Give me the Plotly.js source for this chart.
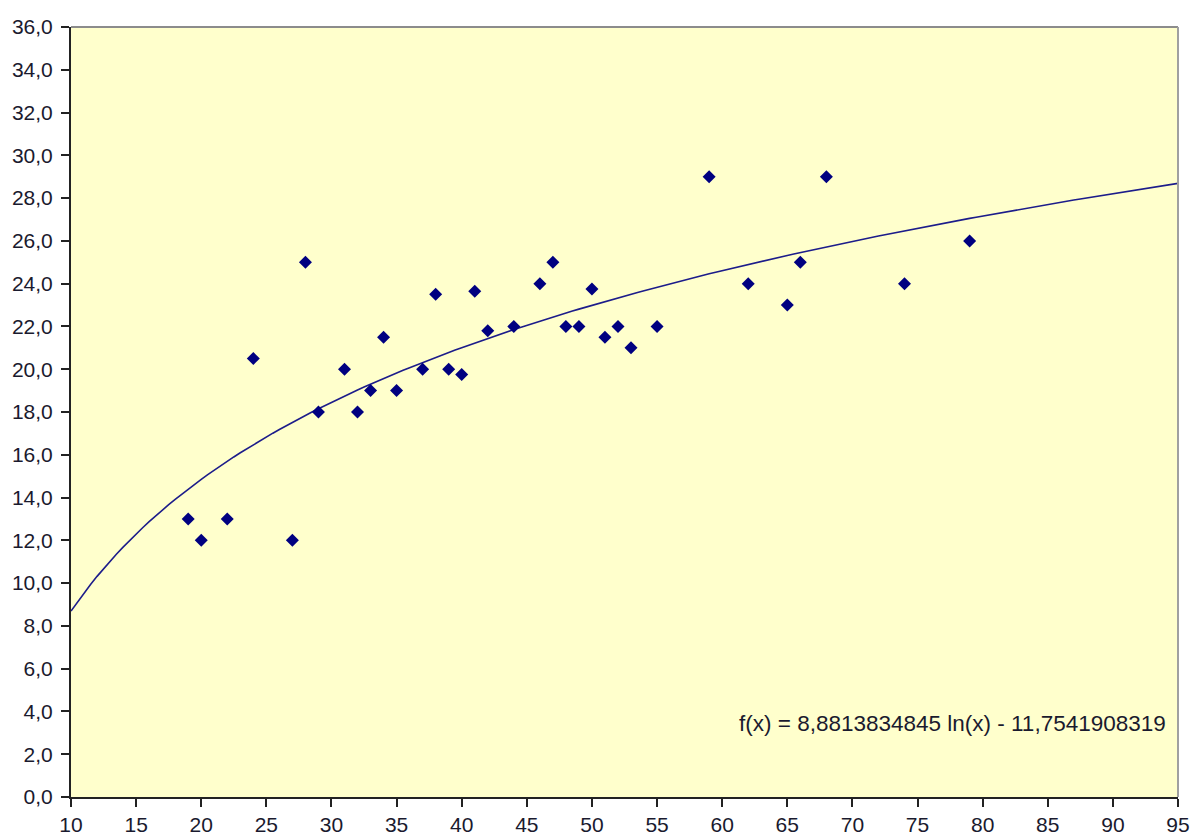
<!DOCTYPE html>
<html>
<head>
<meta charset="utf-8">
<script src="https://cdn.plot.ly/plotly-3.0.1.min.js"></script>
<style>html,body{margin:0;padding:0;background:#fff;}#chart{width:1194px;height:839px;}</style>
</head>
<body>
<div id="chart"></div>
<script>
// Observed data points
const xValues = [19, 20, 22, 24, 27, 28, 29, 31, 32, 33, 34, 35, 37, 38, 39, 40, 41, 42, 44, 46, 47, 48, 49, 50, 51, 52, 53, 55, 59, 62, 65, 66, 68, 74, 79];
const yValues = [13, 12, 13, 20.5, 12, 25, 18, 20, 18, 19, 21.5, 19, 20, 23.5, 20, 19.75, 23.65, 21.8, 22, 24, 25, 22, 22, 23.75, 21.5, 22, 21, 22, 29, 24, 23, 25, 29, 24, 26];

// Logarithmic trendline as printed on the chart: f(x) = a ln(x) + b
const trendA = 8.8813834845;
const trendB = -11.7541908319;
const trendLabel = "f(x) = 8,8813834845 ln(x) - 11,7541908319";
const trendXStart = 10, trendXEnd = 95, trendSteps = 170;
const trendX = [];
const trendY = [];
for (let i = 0; i <= trendSteps; i++) {
  const x = trendXStart + (trendXEnd - trendXStart) * i / trendSteps;
  trendX.push(x);
  trendY.push(trendA * Math.log(x) + trendB);
}

const xTickVals = [10,15,20,25,30,35,40,45,50,55,60,65,70,75,80,85,90,95];
const yTickVals = [0,2,4,6,8,10,12,14,16,18,20,22,24,26,28,30,32,34,36];

const font = {family: "Liberation Sans, Arial, sans-serif", size: 21, color: "#1a1a2e"};

const traces = [
  {x: trendX, y: trendY, type: "scatter", mode: "lines",
   line: {color: "#1c1c8a", width: 1.6}, hoverinfo: "skip", cliponaxis: true},
  {x: xValues, y: yValues, type: "scatter", mode: "markers",
   marker: {symbol: "diamond", size: 10, color: "#000080"}}
];

const layout = {
  width: 1194, height: 839,
  margin: {l: 71, r: 16, t: 27, b: 42, pad: 0},
  paper_bgcolor: "#ffffff",
  plot_bgcolor: "#ffffcc",
  showlegend: false,
  separators: ", ",
  font: font,
  xaxis: {
    range: [10, 95], tickvals: xTickVals, showgrid: false, zeroline: false,
    showline: true, linecolor: "#222222", linewidth: 2,
    ticks: "outside", ticklen: 8, tickwidth: 2, tickcolor: "#222222",
    tickfont: font, fixedrange: true
  },
  yaxis: {
    range: [0, 36], tickvals: yTickVals, tickformat: ".1f", showgrid: false, zeroline: false,
    showline: true, linecolor: "#222222", linewidth: 2,
    ticks: "outside", ticklen: 8, tickwidth: 2, tickcolor: "#222222",
    ticklabelstandoff: 4,
    tickfont: font, fixedrange: true
  },
  shapes: [
    {type: "line", xref: "paper", yref: "paper", x0: 0, x1: 1, y0: 1, y1: 1, line: {color: "#8c8c8c", width: 2}},
    {type: "line", xref: "paper", yref: "paper", x0: 1, x1: 1, y0: 0, y1: 1, line: {color: "#a0a0a0", width: 2}}
  ],
  annotations: [
    {text: trendLabel, xref: "paper", yref: "paper", x: 0.991, y: 0.096,
     xanchor: "right", yanchor: "middle", showarrow: false,
     font: {family: "Liberation Sans, Arial, sans-serif", size: 22.5, color: "#1a1a2e"}}
  ]
};

Plotly.newPlot("chart", traces, layout, {displayModeBar: false, staticPlot: true});
</script>
</body>
</html>
